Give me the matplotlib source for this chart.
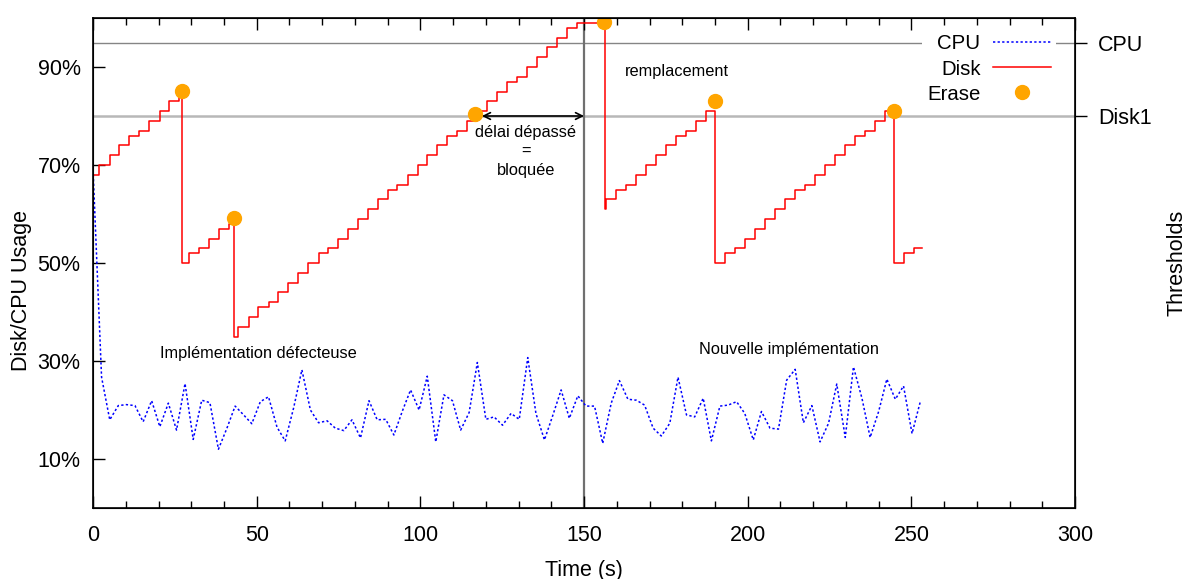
import matplotlib
matplotlib.use("Agg")
import matplotlib.pyplot as plt
from matplotlib.ticker import MultipleLocator

plt.rcParams['font.family'] = ['Liberation Sans', 'DejaVu Sans']

# CPU usage samples (s, %)
cpu_time = [0.0, 2.6, 5.1, 7.7, 10.2, 12.8, 15.3, 17.9, 20.4, 23.0,
            25.5, 28.1, 30.6, 33.2, 35.7, 38.3, 40.9, 43.4, 46.0, 48.5,
            51.1, 53.6, 56.2, 58.7, 61.3, 63.8, 66.4, 68.9, 71.5, 74.0,
            76.6, 79.1, 81.7, 84.3, 86.8, 89.4, 91.9, 94.5, 97.0, 99.6,
            102.1, 104.7, 107.2, 109.8, 112.3, 114.9, 117.4, 120.0, 122.5, 125.1,
            127.7, 130.2, 132.8, 135.3, 137.9, 140.4, 143.0, 145.5, 148.1, 150.6,
            153.2, 155.7, 158.3, 160.8, 163.4, 166.0, 168.5, 171.1, 173.6, 176.2,
            178.7, 181.3, 183.8, 186.4, 188.9, 191.5, 194.0, 196.6, 199.1, 201.7,
            204.2, 206.8, 209.4, 211.9, 214.5, 217.0, 219.6, 222.1, 224.7, 227.2,
            229.8, 232.3, 234.9, 237.4, 240.0, 242.5, 245.1, 247.6, 250.2, 252.8]
cpu_usage = [69.0, 26.7, 18.0, 20.9, 21.1, 20.9, 17.6, 21.9, 16.6, 21.4,
             15.9, 25.4, 14.0, 22.0, 21.5, 12.0, 16.3, 20.8, 19.0, 17.2,
             21.7, 22.7, 16.5, 13.7, 20.5, 28.2, 20.0, 17.4, 17.8, 16.3,
             15.8, 18.0, 14.3, 21.9, 18.0, 18.1, 14.9, 19.8, 24.1, 20.0,
             26.9, 13.5, 23.1, 21.9, 15.9, 19.5, 29.7, 18.1, 18.6, 16.9,
             19.3, 18.1, 30.7, 19.3, 13.9, 18.8, 24.1, 18.3, 22.9, 20.8,
             20.8, 13.2, 21.4, 26.0, 22.2, 22.0, 21.0, 16.3, 14.7, 17.3,
             26.7, 19.0, 18.6, 22.4, 13.7, 20.8, 21.0, 21.7, 19.3, 13.9,
             19.7, 16.3, 16.1, 26.1, 28.3, 17.4, 20.9, 13.5, 17.3, 25.3,
             14.4, 28.8, 22.4, 14.4, 19.7, 26.3, 22.2, 24.9, 15.2, 21.9]

# Disk usage, value held until the next time
disk_time = [0, 1.9, 5.2, 8.0, 11.1, 14.1, 17.2, 20.3, 23.3, 26.4,
             27.2, 29.4, 32.5, 35.5, 38.6, 41.6,
             43.2, 44.4, 47.5, 50.5, 53.6, 56.6, 59.7, 62.7, 65.8, 68.9,
             71.9, 74.8, 77.8, 80.9, 84.0, 86.9, 90.0, 93.0, 96.1, 99.2,
             102.0, 105.0, 108.1, 111.2, 114.2, 117.3, 120.3, 123.4, 126.4, 129.5,
             132.5, 135.6, 138.6, 141.7, 144.8, 147.9,
             156.4, 156.6, 159.7, 162.7, 165.8, 168.8, 171.9, 175.0, 178.0, 181.1,
             184.1, 187.2,
             190.1, 193.1, 196.2, 199.2, 202.2, 205.2, 208.3, 211.3, 214.4, 217.4,
             220.5, 223.5, 226.6, 229.6, 232.7, 235.7, 238.8, 241.8,
             244.6, 247.6, 250.7, 253.1]
disk_usage = [68, 70, 72, 74, 76, 77, 79, 81, 83, 84,
              50, 52, 53, 55, 57, 58,
              35, 37, 39, 41, 42, 44, 46, 48, 50, 52,
              53, 55, 57, 59, 61, 63, 65, 66, 68, 70,
              72, 74, 76, 77, 79, 81, 83, 85, 87, 88,
              90, 92, 94, 96, 98, 99,
              61, 63, 65, 66, 68, 70, 72, 74, 76, 77,
              79, 81,
              50, 52, 53, 55, 57, 59, 61, 63, 65, 66,
              68, 70, 72, 74, 76, 77, 79, 81,
              50, 52, 53, 53]

erase_time = [27.2, 43.2, 116.8, 156.0, 190.1, 244.6]
erase_usage = [85.2, 59.1, 80.4, 99.1, 83.1, 81.1]

threshold_values = [95, 80]
threshold_names = ['CPU', 'Disk1']
replacement_time = 150

y_ticks = [10, 30, 50, 70, 90]


def plotUsage():
    fig = plt.figure(figsize=(11.9, 5.79), dpi=100)
    ax = fig.add_axes([0.0782, 0.1226, 0.8252, 0.8463])

    ax.axhline(threshold_values[0], color='#858585', lw=1.0, zorder=1)
    ax.axhline(threshold_values[1], color='#b8b8b8', lw=1.8, zorder=1)
    ax.axvline(replacement_time, color='#707070', lw=1.6, zorder=1)

    ax.plot(cpu_time, cpu_usage, color='blue', ls=(0, (1.5, 1.5)), lw=1.1, label='CPU', zorder=3)
    ax.plot(disk_time, disk_usage, color='red', lw=1.1, drawstyle='steps-post', label='Disk', zorder=3)
    ax.plot(erase_time, erase_usage, 'o', color='orange', ms=10, ls='none', label='Erase', zorder=5)

    ax.annotate('', xy=(118.8, 80), xytext=(150, 80),
                arrowprops=dict(arrowstyle='<->', color='black', lw=1.2, mutation_scale=12,
                                shrinkA=0, shrinkB=0), zorder=6)
    ax.text(132.2, 72.7, "délai dépassé\n=\nbloquée", ha='center', va='center',
            fontsize=11.8, linespacing=1.35)
    ax.text(178.4, 89.0, "remplacement", ha='center', va='center', fontsize=11.8)
    ax.text(50.5, 31.5, "Implémentation défecteuse", ha='center', va='center', fontsize=11.8)
    ax.text(212.5, 32.4, "Nouvelle implémentation", ha='center', va='center', fontsize=11.8)

    ax.set_xlim(0, 300)
    ax.set_ylim(0, 100)
    ax.xaxis.set_major_locator(MultipleLocator(50))
    ax.xaxis.set_minor_locator(MultipleLocator(10))
    ax.set_yticks(y_ticks)
    ax.set_yticklabels([f"{v}%" for v in y_ticks])
    ax.tick_params(which='both', direction='in', top=True, right=True, labelsize=15.5, width=1)
    ax.tick_params(which='major', length=8.5)
    ax.tick_params(which='minor', length=5)
    ax.tick_params(axis='x', pad=12)
    ax.tick_params(axis='y', pad=9)
    for spine in ax.spines.values():
        spine.set_linewidth(1.2)

    ax.set_xlabel('Time (s)', fontsize=15.5, labelpad=10)
    ax.set_ylabel('Disk/CPU Usage', fontsize=15.5)
    ax.yaxis.label.set_y(0.443)

    leg = ax.legend(loc='upper right', bbox_to_anchor=(0.9806, 0.977), markerfirst=False,
                    fontsize=14.7, frameon=True, fancybox=False, edgecolor='none',
                    facecolor='white', framealpha=1, handlelength=2.85, handletextpad=0.6,
                    labelspacing=0.3, borderaxespad=0, borderpad=0.25)
    leg.set_zorder(10)

    ax2 = ax.twinx()
    ax2.set_ylim(0, 100)
    ax2.set_yticks(threshold_values)
    ax2.set_yticklabels(threshold_names)
    ax2.tick_params(direction='out', length=8.5, width=1, labelsize=15.5, pad=8)
    ax2.set_ylabel('Thresholds', fontsize=15.5, labelpad=11)

    fig.savefig("out.png", dpi=100)
    plt.close(fig)


if __name__ == "__main__":
    plotUsage()
